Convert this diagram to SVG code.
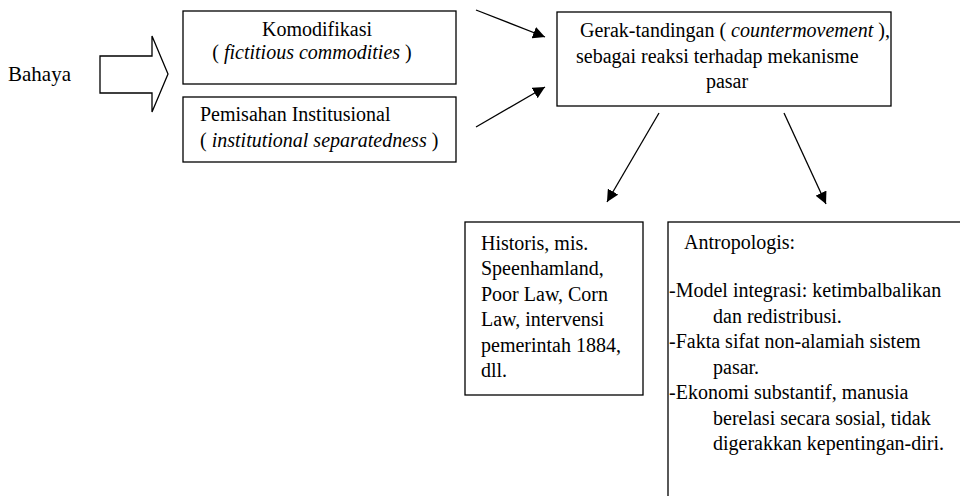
<svg xmlns="http://www.w3.org/2000/svg" width="960" height="496" viewBox="0 0 960 496">
<defs>
<marker id="ah" viewBox="0 0 10 10" refX="10" refY="5" markerWidth="12" markerHeight="12" markerUnits="userSpaceOnUse" orient="auto">
<path d="M0,0 L10,5 L0,10 z" fill="#000"/>
</marker>
</defs>
<rect width="960" height="496" fill="#fff"/>
<g id="bahaya">
<text x="8" y="81" font-family="Liberation Serif" font-size="21">Bahaya</text>
</g>
<g id="block-arrow" fill="#fff" stroke="#000" stroke-width="1.3">
<path d="M100,56 L152,56 L152,36 L168,74 L152,112 L152,93 L100,93 Z"/>
</g>
<g id="komodifikasi">
<rect x="183" y="11" width="273" height="73" fill="#fff" stroke="#000" stroke-width="1.3"/>
<text x="317" y="36" text-anchor="middle" font-family="Liberation Serif" font-size="20">Komodifikasi</text>
<text x="312" y="59" text-anchor="middle" font-family="Liberation Serif" font-size="20">( <tspan font-style="italic">fictitious commodities</tspan> )</text>
</g>
<g id="pemisahan">
<rect x="183" y="97" width="273" height="65" fill="#fff" stroke="#000" stroke-width="1.3"/>
<text x="200" y="121" font-family="Liberation Serif" font-size="20">Pemisahan Institusional</text>
<text x="200" y="147" font-family="Liberation Serif" font-size="20">( <tspan font-style="italic">institutional separatedness</tspan> )</text>
</g>
<g id="gerak">
<rect x="557" y="12" width="334" height="94" fill="#fff" stroke="#000" stroke-width="1.3"/>
<text x="580" y="37" font-family="Liberation Serif" font-size="20">Gerak-tandingan ( <tspan font-style="italic">countermovement</tspan> ),</text>
<text x="576" y="63" font-family="Liberation Serif" font-size="20">sebagai reaksi terhadap mekanisme</text>
<text x="727" y="88" text-anchor="middle" font-family="Liberation Serif" font-size="20">pasar</text>
</g>
<g id="historis">
<rect x="465" y="222" width="178" height="173" fill="#fff" stroke="#000" stroke-width="1.3"/>
<text x="481" y="250" font-family="Liberation Serif" font-size="20">Historis, mis.</text>
<text x="481" y="275" font-family="Liberation Serif" font-size="20">Speenhamland,</text>
<text x="481" y="301" font-family="Liberation Serif" font-size="20">Poor Law, Corn</text>
<text x="481" y="326" font-family="Liberation Serif" font-size="20">Law, intervensi</text>
<text x="481" y="352" font-family="Liberation Serif" font-size="20">pemerintah 1884,</text>
<text x="481" y="377" font-family="Liberation Serif" font-size="20">dll.</text>
</g>
<g id="antropologis">
<rect x="668" y="222" width="320" height="300" fill="#fff" stroke="#000" stroke-width="1.3"/>
<text x="684" y="249" font-family="Liberation Serif" font-size="20">Antropologis:</text>
<text x="669" y="297" font-family="Liberation Serif" font-size="20">-Model integrasi: ketimbalbalikan</text>
<text x="713" y="323" font-family="Liberation Serif" font-size="20">dan redistribusi.</text>
<text x="669" y="348" font-family="Liberation Serif" font-size="20">-Fakta sifat non-alamiah sistem</text>
<text x="713" y="374" font-family="Liberation Serif" font-size="20">pasar.</text>
<text x="669" y="399" font-family="Liberation Serif" font-size="20">-Ekonomi substantif, manusia</text>
<text x="713" y="425" font-family="Liberation Serif" font-size="20">berelasi secara sosial, tidak</text>
<text x="713" y="450" font-family="Liberation Serif" font-size="20">digerakkan kepentingan-diri.</text>
</g>
<g id="connectors" stroke="#000" stroke-width="1.3" fill="none">
<line x1="476" y1="10" x2="545" y2="37" marker-end="url(#ah)"/>
<line x1="476" y1="127" x2="545" y2="87" marker-end="url(#ah)"/>
<line x1="659" y1="113" x2="607" y2="202" marker-end="url(#ah)"/>
<line x1="784" y1="113" x2="826" y2="204" marker-end="url(#ah)"/>
</g>
</svg>
